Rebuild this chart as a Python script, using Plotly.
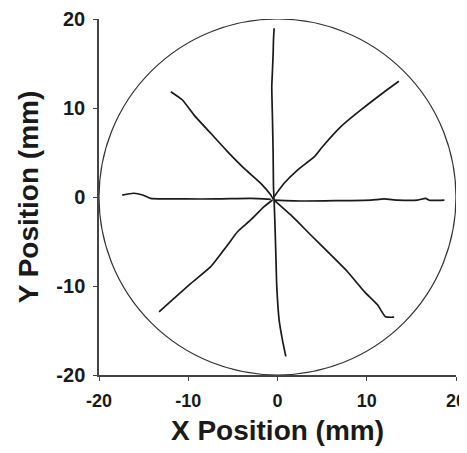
import plotly.graph_objects as go

# Trajectory data (mm), one list per reach direction
up_x = [-0.38, -0.45, -0.49, -0.56, -0.64, -0.56, -0.49, -0.45, -0.38]
up_y = [-0.34, 1.16, 4.9, 8.65, 12.4, 14.3, 16.1, 17.6, 18.96]

down_x = [-0.38, -0.3, -0.19, -0.08, 0.18, 0.56, 0.93]
down_y = [-0.34, -2.6, -6.3, -10.1, -13.8, -16.1, -17.9]

upleft_x = [-0.45, -0.75, -1.87, -3.74, -5.6, -7.48, -9.35, -10.65, -11.96]
upleft_y = [-0.3, 0.22, 1.54, 3.22, 5.1, 7.16, 9.2, 10.9, 11.83]

upright_x = [-0.38, 0.74, 2.24, 4.1, 5.04, 7.1, 9.34, 11.95, 13.6]
upright_y = [0.03, 1.54, 3.03, 4.5, 5.65, 7.9, 9.78, 11.8, 13.0]

downleft_x = [-0.56, -1.5, -3.0, -4.48, -5.6, -7.48, -9.7, -11.6, -13.27]
downleft_y = [-0.34, -1.09, -2.58, -3.9, -5.4, -7.83, -9.7, -11.4, -12.9]

downright_x = [-0.38, 1.49, 3.73, 5.98, 7.85, 9.7, 11.2, 12.1, 13.07]
downright_y = [-0.34, -2.02, -4.27, -6.5, -8.4, -10.6, -12.1, -13.45, -13.5]

left_x = [-0.75, -3.0, -6.7, -10.5, -14.2, -15.1, -16.1, -17.4]
left_y = [-0.26, -0.15, -0.22, -0.22, -0.15, 0.22, 0.42, 0.22]

right_x = [-0.38, 2.98, 6.7, 10.46, 11.95, 13.45, 15.7, 16.6, 17.0, 18.7]
right_y = [-0.34, -0.45, -0.41, -0.34, -0.22, -0.34, -0.34, -0.15, -0.37, -0.34]

circle_radius = 20
tick_vals = [-20, -10, 0, 10, 20]
tick_text = ["-20", "-10", "0", "10", "20"]

paths = [
    (up_x, up_y), (down_x, down_y), (upleft_x, upleft_y), (upright_x, upright_y),
    (downleft_x, downleft_y), (downright_x, downright_y), (left_x, left_y), (right_x, right_y),
]

FONT = "Arial, Liberation Sans, sans-serif"

fig = go.Figure()
for px, py in paths:
    fig.add_trace(go.Scatter(x=px, y=py, mode="lines",
                             line=dict(color="#1a1a1a", width=1.7, shape="spline", smoothing=0.5),
                             showlegend=False, hoverinfo="skip"))

fig.add_shape(type="circle", xref="x", yref="y",
              x0=-circle_radius, x1=circle_radius, y0=-circle_radius, y1=circle_radius,
              line=dict(color="#333333", width=1.2), layer="above")

axis_common = dict(
    range=[-20, 20], tickvals=tick_vals, ticktext=tick_text,
    showgrid=False, zeroline=False,
    showline=True, linecolor="#444444", linewidth=1.5, automargin=False,
    ticks="outside", ticklen=4, tickwidth=1.2, tickcolor="#444444",
)

fig.update_xaxes(**axis_common, ticklabelstandoff=5,
                 tickfont=dict(family=FONT, size=18, color="#1a1a1a", weight="bold"),
                 title=dict(text="<b>X Position (mm)</b>", standoff=10,
                            font=dict(family=FONT, size=28, color="#1a1a1a")))
fig.update_yaxes(**axis_common, ticklabelstandoff=4,
                 tickfont=dict(family=FONT, size=20, color="#1a1a1a", weight="bold"),
                 title=dict(text="<b>Y Position (mm)</b>", standoff=10,
                            font=dict(family=FONT, size=28, color="#1a1a1a")))

fig.update_layout(
    width=459, height=445,
    margin=dict(l=91, r=11, t=11, b=78),
    plot_bgcolor="white", paper_bgcolor="white",
)

fig.write_html("out.html")
